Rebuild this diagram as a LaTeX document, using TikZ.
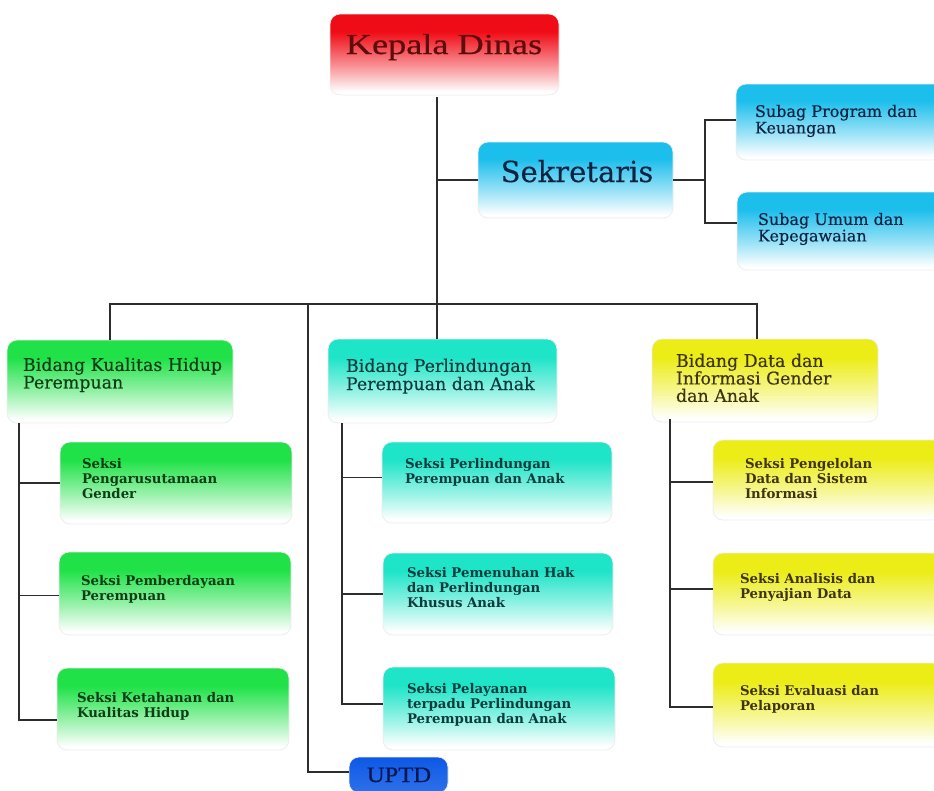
\documentclass[tikz,border=0pt]{standalone}
\usepackage{fontspec}
\setmainfont{DejaVu Serif}
\newfontfamily\titlefont[FakeStretch=1.25,FakeBold=0.6]{Liberation Serif}
\newfontfamily\uptdfont[FakeStretch=1.12,FakeBold=0.6]{Liberation Serif}
\newfontfamily\medfont[FakeBold=0.35]{DejaVu Serif}
\definecolor{cRed}{RGB}{240,12,22}
\definecolor{cCyan}{RGB}{28,190,236}
\definecolor{cGreen}{RGB}{32,226,72}
\definecolor{cTeal}{RGB}{30,228,200}
\definecolor{cYellow}{RGB}{236,236,22}
\definecolor{cBlue}{RGB}{12,88,230}
\definecolor{tRed}{RGB}{95,12,12}
\definecolor{tCyan}{RGB}{12,36,66}
\definecolor{tGreen}{RGB}{14,62,22}
\definecolor{tTeal}{RGB}{10,60,60}
\definecolor{tYellow}{RGB}{62,52,14}
\definecolor{tBlue}{RGB}{10,22,80}
\definecolor{lineC}{RGB}{45,45,45}
\pgfdeclareverticalshading{fRed}{100bp}{color(0bp)=(white); color(27bp)=(white); color(43bp)=(cRed!45!white); color(64bp)=(cRed); color(100bp)=(cRed)}
\pgfdeclareverticalshading{fCyan}{100bp}{color(0bp)=(white); color(27bp)=(white); color(43bp)=(cCyan!45!white); color(64bp)=(cCyan); color(100bp)=(cCyan)}
\pgfdeclareverticalshading{fGreen}{100bp}{color(0bp)=(white); color(27bp)=(white); color(43bp)=(cGreen!45!white); color(64bp)=(cGreen); color(100bp)=(cGreen)}
\pgfdeclareverticalshading{fTeal}{100bp}{color(0bp)=(white); color(27bp)=(white); color(43bp)=(cTeal!45!white); color(64bp)=(cTeal); color(100bp)=(cTeal)}
\pgfdeclareverticalshading{fYellow}{100bp}{color(0bp)=(white); color(27bp)=(white); color(43bp)=(cYellow!45!white); color(64bp)=(cYellow); color(100bp)=(cYellow)}
\pgfdeclareverticalshading{fBlue}{100bp}{color(0bp)=(cBlue!85!white); color(25bp)=(cBlue!85!white); color(75bp)=(cBlue); color(100bp)=(cBlue)}
\begin{document}
\begin{tikzpicture}[x=1pt,y=-1pt,
  box/.style={rounded corners=10pt, anchor=north west, inner sep=0pt, outer sep=0pt, draw=black!7, line width=0.8pt, shade},
  lab/.style={anchor=north west, inner sep=0pt, outer sep=0pt, align=left},
  bid/.style={lab, font={\medfont\fontsize{17.4}{16.5}\selectfont}},
  sub/.style={lab, font={\medfont\fontsize{16}{16.5}\selectfont}},
  sek/.style={lab, font={\fontsize{13.3}{15}\selectfont\bfseries}},
  conn/.style={draw=lineC, line width=1.1pt}]
\useasboundingbox (0,0) rectangle (934,790);
% boxes
\node[box, shading=fRed, minimum width=229pt, minimum height=81pt] (kd) at (330,14) {};
\node[box, shading=fCyan, minimum width=195pt, minimum height=76pt] (sek) at (478,142) {};
\node[box, shading=fCyan, minimum width=210pt, minimum height=76pt] (sp) at (736,84) {};
\node[box, shading=fCyan, minimum width=210pt, minimum height=78pt] (su) at (737,192) {};
\node[box, shading=fGreen, minimum width=226pt, minimum height=83pt] (kb) at (7,340) {};
\node[box, shading=fTeal, minimum width=229pt, minimum height=84pt] (pl) at (328,339) {};
\node[box, shading=fYellow, minimum width=226pt, minimum height=83pt] (bd) at (652,339) {};
\node[box, shading=fGreen, minimum width=232pt, minimum height=82pt] (k1) at (60,442) {};
\node[box, shading=fGreen, minimum width=232pt, minimum height=83pt] (k2) at (59,552) {};
\node[box, shading=fGreen, minimum width=232pt, minimum height=82pt] (k3) at (57,668) {};
\node[box, shading=fTeal, minimum width=230pt, minimum height=81pt] (p1) at (382,442) {};
\node[box, shading=fTeal, minimum width=230pt, minimum height=82pt] (p2) at (383,553) {};
\node[box, shading=fTeal, minimum width=232pt, minimum height=83pt] (p3) at (383,667) {};
\node[box, shading=fYellow, minimum width=230pt, minimum height=80pt] (d1) at (713,440) {};
\node[box, shading=fYellow, minimum width=230pt, minimum height=82pt] (d2) at (713,553) {};
\node[box, shading=fYellow, minimum width=230pt, minimum height=84pt] (d3) at (713,663) {};
\node[box, shading=fBlue, minimum width=99pt, minimum height=36pt] (up) at (349,757) {};
% labels
\node[inner sep=0pt, anchor=base, text=tRed, font={\titlefont\fontsize{29}{30}\selectfont}] (kdt) at (444,54) {Kepala Dinas};
\node[inner sep=0pt, anchor=base, text=tCyan, font={\medfont\fontsize{29}{30}\selectfont}] (sekt) at (577,182) {Sekretaris};
\node[inner sep=0pt, anchor=base, text=tBlue, font={\uptdfont\fontsize{22}{24}\selectfont}] (upt) at (399,782) {UPTD};
\node[sub, text=tCyan] (spt) at (755,104.8) {Subag Program dan\\Keuangan};
\node[sub, text=tCyan] (sut) at (758,212.8) {Subag Umum dan\\Kepegawaian};
\node[bid, text=tGreen] (kbt) at (23,357.7) {Bidang Kualitas Hidup\\Perempuan};
\node[bid, text=tTeal] (plt) at (346,358.7) {Bidang Perlindungan\\Perempuan dan Anak};
\node[bid, text=tYellow, font={\medfont\fontsize{17.4}{17.5}\selectfont}] (bdt) at (676,353.7) {Bidang Data dan\\Informasi Gender\\dan Anak};
\node[sek, text=tGreen] (k1t) at (82,458.5) {Seksi\\Pengarusutamaan\\Gender};
\node[sek, text=tGreen] (k2t) at (81,575.5) {Seksi Pemberdayaan\\Perempuan};
\node[sek, text=tGreen] (k3t) at (77,692.5) {Seksi Ketahanan dan\\Kualitas Hidup};
\node[sek, text=tTeal] (p1t) at (405,458.5) {Seksi Perlindungan\\Perempuan dan Anak};
\node[sek, text=tTeal] (p2t) at (407,567.5) {Seksi Pemenuhan Hak\\dan Perlindungan\\Khusus Anak};
\node[sek, text=tTeal] (p3t) at (407,683.5) {Seksi Pelayanan\\terpadu Perlindungan\\Perempuan dan Anak};
\node[sek, text=tYellow] (d1t) at (745,458.5) {Seksi Pengelolan\\Data dan Sistem\\Informasi};
\node[sek, text=tYellow] (d2t) at (740,573.5) {Seksi Analisis dan\\Penyajian Data};
\node[sek, text=tYellow] (d3t) at (740,685.5) {Seksi Evaluasi dan\\Pelaporan};
% connector coordinates
\coordinate (trunk) at (437,304);
\coordinate (sj) at (705,180);
\coordinate (busL) at (110,304);
\coordinate (busR) at (757,304);
\coordinate (busU) at (308,304);
\coordinate (kt) at (19,0);
\coordinate (pt) at (342,0);
\coordinate (dt) at (670,0);
% connectors
\draw[conn] ([yshift=-2pt]kd.south -| trunk) -- (pl.north -| trunk);
\draw[conn] (sek.west) -- (sek.west -| trunk);
\draw[conn] (sek.east) -- (sj);
\draw[conn] ([yshift=2pt]sp.west) -| (sj) |- ([yshift=8pt]su.west);
\draw[conn] (kb.north -| busL) -- (busL) -- (busR) -- (bd.north -| busR);
\draw[conn] (busU) |- ([yshift=3pt]up.west);
\draw[conn] (kb.south -| kt) |- ([yshift=-11pt]k3.west);
\draw[conn] (k1.west) -- (k1.west -| kt);
\draw[conn] ([yshift=-2pt]k2.west) -- ([yshift=-2pt]k2.west -| kt);
\draw[conn] (pl.south -| pt) |- ([yshift=4.5pt]p3.west);
\draw[conn] ([yshift=5pt]p1.west) -- ([yshift=5pt]p1.west -| pt);
\draw[conn] (p2.west) -- (p2.west -| pt);
\draw[conn] ([yshift=3pt]bd.south -| dt) |- ([yshift=-2pt]d3.west);
\draw[conn] ([yshift=-2pt]d1.west) -- ([yshift=-2pt]d1.west -| dt);
\draw[conn] ([yshift=5pt]d2.west) -- ([yshift=5pt]d2.west -| dt);
\end{tikzpicture}
\end{document}
